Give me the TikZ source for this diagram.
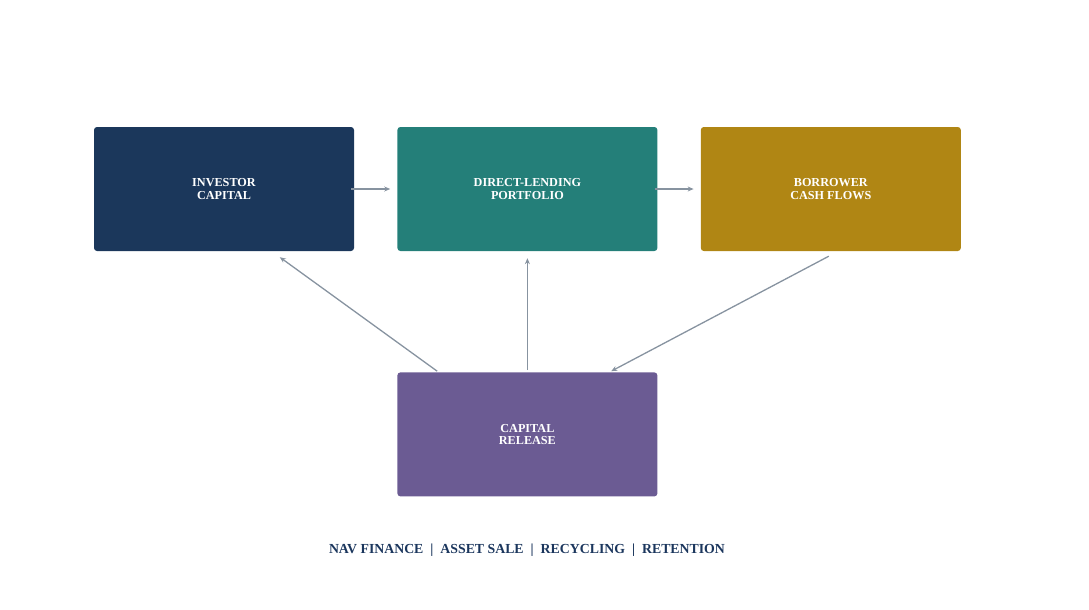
\documentclass[tikz,border=0pt]{standalone}
\usepackage{fontspec}
\setmainfont{Liberation Serif}
\usepackage{xcolor}
\usepackage{tikz}
\usetikzlibrary{arrows,arrows.meta,positioning,calc}
\definecolor{navyblue}{HTML}{1B375B}
\definecolor{tealgreen}{HTML}{247F79}
\definecolor{ochre}{HTML}{B08614}
\definecolor{lavender}{HTML}{6B5B93}
\definecolor{linegray}{HTML}{8793A0}
\definecolor{footnavy}{HTML}{1B365D}

\begin{document}
\begin{tikzpicture}
 	[x=1pt, y=1pt,
 	% STYLES
 	% The stage style is used to draw the coloured boxes
 	stage/.style={rectangle, rounded corners=3pt, text=white, minimum width=260pt, minimum height=124pt, inner sep=0pt, align=center, font=\bfseries\fontsize{12.2}{12.5}\selectfont},
 	% The flow style is used for the grey connectors
 	flow/.style={draw=linegray, line width=1.3pt, -{Stealth[length=6pt,width=5pt]}}]
 	
 	% page frame
 	\useasboundingbox (0,0) rectangle (1089,-610);
 	% top row
 	\node [stage, fill=navyblue] (Investor) at (224,-189) {INVESTOR\\CAPITAL};
 	\node [stage, fill=tealgreen, right = 43pt of Investor] (Lending) {DIRECT-LENDING\\PORTFOLIO};
 	\node [stage, fill=ochre, right = 43pt of Lending] (Borrower) {BORROWER\\CASH FLOWS};
 	% below
 	\node [stage, fill=lavender, below = 121pt of Lending] (Release) {CAPITAL\\RELEASE};
 	% footer
 	\node [text=footnavy, font=\bfseries\fontsize{13.8}{16}\selectfont] (Footer) at (527,-550)
 	{NAV FINANCE\hspace{7pt}|\hspace{7pt}ASSET SALE\hspace{7pt}|\hspace{7pt}RECYCLING\hspace{7pt}|\hspace{7pt}RETENTION};
 	% Draw the links along the top row
 	\draw [flow] ([xshift=-3pt]Investor.east) -- ([xshift=-7pt]Lending.west);
 	\draw [flow] ([xshift=-3pt]Lending.east) -- ([xshift=-7pt]Borrower.west);
 	% links to and from the release box
 	\draw [flow] ([xshift=-2pt,yshift=-5pt]Borrower.south) -- ([xshift=214pt,yshift=1pt]Release.north west);
 	\draw [flow] ([yshift=2pt]Release.north) -- ([yshift=-7pt]Lending.south);
 	\draw [flow] ([xshift=40pt,yshift=1pt]Release.north west) -- ([xshift=186pt,yshift=-6pt]Investor.south west);
 	
\end{tikzpicture}
\end{document}
